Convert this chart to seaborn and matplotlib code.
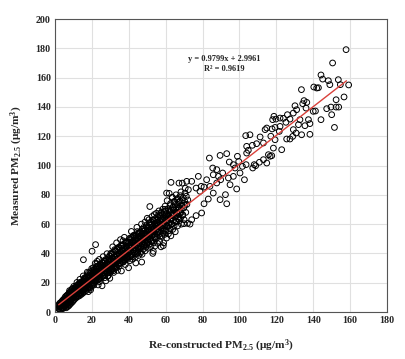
import matplotlib
matplotlib.use("Agg")
import matplotlib.pyplot as plt
import seaborn as sns
import pandas as pd

# ---- data ----
pts_a = [(1.5,3.2),(2.0,4.8),(2.2,2.1),(2.5,5.9),(2.8,3.7),(3.0,1.8),(3.1,6.5),(3.3,4.2),(3.6,2.9),(3.8,7.4),(4.0,5.1),(4.1,3.3),(4.3,8.2),(4.5,6.0),(4.6,2.6),(4.8,4.5),(5.0,9.1),(5.1,7.0),(5.2,3.8),(5.4,5.6),(5.6,10.4),(5.7,8.1),(5.9,4.4),(6.0,6.6),(6.1,2.9),(6.3,11.2),(6.4,9.0),(6.5,5.3),(6.7,7.5),(6.8,3.6),(7.0,12.0),(7.1,10.1),(7.2,6.2),(7.4,8.6),(7.5,4.3),(7.7,13.1),(7.8,11.0),(7.9,7.1),(8.0,9.4),(8.1,5.2),(8.3,14.0),(8.4,12.1),(8.5,8.0),(8.6,10.5),(8.8,6.1),(9.0,15.2),(9.1,12.8),(9.2,9.0),(9.3,11.4),(9.5,7.0),(9.6,16.0),(9.7,13.6),(9.8,10.0),(9.9,12.3),(10.0,7.9),(10.2,17.5),(10.3,14.4),(10.4,11.0),(10.5,8.6),(10.6,13.0)]
pts_b = [(10.8,15.6),(11.0,12.2),(11.1,16.8),(11.3,9.5),(11.4,14.1),(11.6,16.9),(11.7,11.3),(11.9,20.2),(12.0,13.6),(12.2,10.4),(12.3,17.2),(12.5,15.0),(12.6,18.7),(12.8,12.4),(12.9,18.6),(13.1,14.3),(13.2,11.0),(13.4,16.5),(13.5,22.3),(13.7,13.1),(13.8,19.4),(14.0,15.7),(14.1,11.9),(14.3,17.8),(14.4,20.6),(14.6,14.6),(14.7,20.4),(14.9,12.7),(15.0,16.9),(15.2,19.0),(15.3,24.6),(15.4,35.7),(15.5,15.3),(15.6,21.5),(15.8,13.6),(15.9,18.0),(16.1,20.1),(16.3,22.9),(16.4,16.2),(16.6,22.4),(16.7,14.5),(16.9,19.1),(17.0,24.0),(17.2,17.3),(17.3,21.1),(17.5,27.2),(17.6,15.6),(17.8,23.2),(17.9,19.8),(18.1,13.9),(18.2,25.3),(18.4,18.4),(18.5,22.0),(18.7,24.9),(18.8,16.8),(19.0,24.2),(19.1,20.6),(19.3,15.1),(19.4,26.5),(19.6,19.2),(19.7,23.0),(19.9,29.6),(20.0,17.9),(20.1,41.5),(20.2,25.2),(20.3,21.6)]
pts_c = [(20.5,28.5),(20.6,19.0),(20.8,23.9),(20.9,27.5),(21.1,18.4),(21.2,22.1),(21.4,29.2),(21.5,25.4),(21.7,20.3),(21.8,33.2),(22.0,46.0),(22.0,23.6),(22.2,27.9),(22.3,21.1),(22.5,30.8),(22.6,25.0),(22.8,21.7),(22.9,34.6),(23.1,28.2),(23.2,24.2),(23.4,18.5),(23.5,31.6),(23.7,26.6),(23.8,22.8),(24.0,35.9),(24.1,29.3),(24.3,25.6),(24.4,22.7),(24.6,32.8),(24.7,27.4),(24.9,23.8),(25.0,31.9),(25.2,30.4),(25.3,26.5),(25.5,17.9),(25.6,33.9),(25.8,28.6),(25.9,24.5),(26.1,37.8),(26.2,31.3),(26.4,27.1),(26.5,24.6),(26.7,35.1),(26.8,29.8),(27.0,25.5),(27.1,34.6),(27.3,32.2),(27.4,28.0),(27.6,21.3),(27.7,36.0),(27.9,30.7),(28.0,26.6),(28.2,39.8),(28.3,33.5),(28.5,29.1),(28.6,24.8),(28.8,37.2),(28.9,31.6),(29.1,27.4),(29.2,36.2),(29.4,34.5),(29.5,30.0),(29.7,23.0),(29.8,38.4),(30.0,32.6)]
pts_d = [(30.1,28.2),(30.3,40.1),(30.4,35.6),(30.6,31.0),(30.7,28.9),(30.9,39.5),(31.0,33.6),(31.2,29.0),(31.3,44.5),(31.5,36.4),(31.6,32.0),(31.8,27.0),(31.9,40.6),(32.1,34.7),(32.2,30.3),(32.4,42.6),(32.5,37.5),(32.7,33.1),(32.8,29.8),(33.0,41.7),(33.1,35.8),(33.3,31.3),(33.4,47.2),(33.6,38.6),(33.7,34.1),(33.9,28.4),(34.0,42.8),(34.2,36.8),(34.3,32.4),(34.5,43.9),(34.6,39.7),(34.8,35.2),(34.9,33.1),(35.1,43.8),(35.2,37.9),(35.4,33.5),(35.5,49.4),(35.7,40.8),(35.8,36.2),(36.0,28.0),(36.1,44.9),(36.3,39.0),(36.4,34.4),(36.6,45.7),(36.7,41.8),(36.9,37.3),(37.0,34.2),(37.2,46.0),(37.3,40.0),(37.5,35.5),(37.6,51.0),(37.8,42.9),(37.9,38.4),(38.1,32.4),(38.3,47.0),(38.4,41.1),(38.6,36.6),(38.7,47.3),(38.9,43.9),(39.0,39.4),(39.2,36.0),(39.4,48.0),(39.5,42.0),(39.7,37.6),(39.9,30.2),(40.0,45.0)]
pts_e = [(40.2,40.4),(40.3,50.2),(40.5,35.0),(40.6,46.1),(40.8,41.4),(40.9,49.4),(41.1,37.9),(41.2,43.7),(41.4,55.0),(41.5,47.2),(41.7,39.0),(41.8,44.6),(42.0,51.0),(42.1,36.0),(42.3,48.2),(42.4,42.0),(42.6,46.0),(42.7,52.4),(42.9,40.1),(43.0,49.3),(43.2,44.0),(43.3,52.1),(43.5,37.4),(43.6,47.2),(43.8,33.5),(43.9,50.2),(44.1,42.3),(44.2,45.6),(44.4,57.8),(44.5,48.4),(44.7,40.0),(44.8,53.0),(45.0,44.5),(45.2,50.8),(45.3,38.6),(45.5,47.1),(45.6,54.0),(45.8,43.3),(45.9,51.9),(46.1,45.8),(46.3,40.2),(46.4,54.2),(46.6,48.4),(46.7,44.6),(46.9,60.0),(47.0,52.7),(47.0,34.1),(47.2,39.4),(47.3,46.9),(47.5,55.3),(47.7,49.6),(47.8,42.8),(48.0,57.6),(48.1,51.1),(48.3,45.9),(48.5,56.9),(48.6,53.6),(48.8,47.6),(48.9,41.8),(49.1,56.0),(49.3,50.4),(49.4,44.4),(49.6,59.4),(49.8,52.9),(49.9,47.0),(50.0,64.0)]
pts_f = [(50.2,55.2),(50.3,49.0),(50.5,43.5),(50.6,58.3),(50.8,51.6),(50.9,63.0),(51.1,46.2),(51.2,55.9),(51.4,72.0),(51.5,49.8),(51.7,59.4),(51.8,53.1),(52.0,44.6),(52.1,61.2),(52.3,56.4),(52.4,48.0),(52.6,65.2),(52.7,52.0),(52.9,58.5),(53.0,40.0),(53.2,54.7),(53.3,62.6),(53.3,41.4),(53.5,47.4),(53.6,57.1),(53.8,66.5),(53.9,51.0),(54.1,60.0),(54.2,45.0),(54.4,55.6),(54.5,63.8),(54.7,58.6),(54.8,49.9),(55.0,67.4),(55.2,53.4),(55.3,61.2),(55.5,57.0),(55.6,46.9),(55.8,64.7),(55.9,52.2),(56.1,59.4),(56.3,69.0),(56.4,55.0),(56.6,62.6),(56.7,48.3),(56.9,58.0),(57.0,66.0),(57.2,53.6),(57.4,61.1),(57.5,44.5),(57.7,57.5),(57.8,68.0),(58.0,63.8),(58.1,51.7),(58.3,59.2),(58.4,70.2),(58.6,55.5),(58.7,45.3),(58.8,62.3),(58.9,47.2),(59.1,66.5),(59.2,58.8),(59.4,53.0),(59.6,64.2),(59.7,72.3),(59.9,60.0)]
pts_g = [(60.1,55.8),(60.3,67.0),(60.5,81.2),(60.5,50.5),(60.6,62.9),(60.8,76.0),(61.0,58.4),(61.2,65.3),(61.4,70.5),(61.5,53.4),(61.7,61.0),(61.9,81.0),(62.1,67.9),(62.3,57.0),(62.5,63.6),(62.6,74.0),(62.8,52.0),(62.9,88.5),(63.0,69.6),(63.2,60.4),(63.4,65.8),(63.6,78.2),(63.8,56.4),(64.0,71.5),(64.2,62.7),(64.4,67.4),(64.6,59.0),(64.8,75.6),(65.0,64.8),(65.2,54.8),(65.4,70.0),(65.6,80.0),(65.8,61.7),(66.0,67.3),(66.3,73.3),(66.5,58.8),(66.7,77.5),(67.0,65.0),(67.2,88.0),(67.4,70.9),(67.6,62.5),(67.8,75.8),(68.0,68.0),(68.3,82.0),(68.5,60.0),(68.7,73.0),(69.0,88.0),(69.2,66.0),(69.5,78.0),(69.8,71.0),(69.9,60.3),(70.0,63.0),(70.3,75.5),(70.5,81.2),(70.6,84.5),(70.9,68.0),(71.2,79.0),(71.4,89.2),(71.5,73.5),(71.8,60.5),(72.0,76.5),(72.3,83.5)]
pts_core1 = [(3.4,5.8),(1.9,2.4),(6.2,9.7),(4.7,3.1),(8.9,13.5),(2.6,4.0),(7.3,7.9),(5.5,8.8),(10.1,11.2),(3.9,2.2),(9.4,15.9),(6.9,5.0),(11.6,18.0),(4.2,6.9),(8.2,10.6),(2.3,3.5),(5.8,4.9),(10.7,16.4),(7.6,12.5),(3.0,3.9),(9.7,9.3),(6.4,7.9),(11.9,13.2),(4.9,7.7),(8.7,7.3),(1.7,4.4),(5.1,5.5),(10.4,13.9),(7.0,8.8),(12.2,11.4),(3.7,4.7),(9.1,10.9),(6.6,11.1),(11.1,15.1),(2.9,5.2),(8.4,9.9),(5.3,6.7),(10.9,10.3),(7.9,14.6),(4.4,5.3)]
pts_core2 = [(13.3,17.9),(19.8,22.7),(15.1,13.8),(22.4,29.6),(17.6,20.3),(12.7,16.2),(24.3,23.1),(14.4,19.6),(20.9,25.4),(16.2,15.4),(23.6,31.4),(18.8,17.5),(13.9,12.6),(21.7,21.6),(15.8,22.5),(24.9,28.9),(17.1,23.9),(12.4,13.8),(19.3,27.6),(22.9,24.8),(14.9,16.9),(20.4,18.9),(16.7,20.6),(23.2,26.9),(18.3,24.1),(13.6,20.1),(21.3,28.4),(15.5,18.3),(24.6,32.3),(17.9,16.7),(19.6,20.9),(22.1,22.9),(14.2,14.7),(20.7,30.2),(16.5,18.0),(23.9,25.8),(18.6,21.7),(12.9,19.3),(21.9,26.2),(15.3,21.2),(24.1,20.7),(17.4,18.8),(19.1,16.3),(22.7,33.0),(16.0,23.3),(20.1,23.7),(23.4,22.2),(18.1,26.6),(13.1,15.3),(21.1,19.7)]
pts_core3 = [(26.4,30.9),(33.8,38.4),(28.7,24.6),(37.2,43.6),(30.3,35.9),(25.6,29.4),(35.4,33.1),(29.1,31.7),(38.6,47.9),(31.7,28.2),(27.2,34.7),(36.6,38.9),(32.4,41.8),(39.3,37.4),(28.2,29.5),(34.5,44.2),(26.9,23.4),(30.9,32.2),(37.9,40.6),(33.1,30.6),(29.6,38.1),(35.9,45.7),(25.2,31.1),(31.2,36.8),(38.1,35.5),(27.7,27.6),(34.1,35.0),(36.2,42.0),(32.8,33.9),(39.7,44.9),(29.9,26.8),(26.1,26.4),(33.4,42.7),(37.5,36.1),(30.6,39.6),(35.1,39.2),(28.4,33.3),(39.0,41.3),(31.9,34.4),(34.8,31.2),(27.4,31.9),(36.9,48.6),(32.1,37.7),(38.4,39.0),(25.9,33.6),(30.1,29.2),(35.7,37.3),(33.6,36.0),(29.3,35.4),(37.0,34.1)]
pts_core4 = [(41.3,45.2),(48.6,50.7),(43.7,39.8),(52.2,59.9),(45.2,49.5),(40.6,43.6),(50.4,47.8),(44.1,52.3),(53.6,55.8),(46.7,41.3),(42.2,47.9),(51.6,54.1),(47.4,56.5),(54.3,51.2),(43.2,44.4),(49.5,58.3),(41.9,37.6),(45.9,46.6),(52.9,62.7),(48.1,45.1),(44.6,54.9),(50.9,52.5),(40.2,47.3),(46.2,51.4),(53.1,49.0),(42.7,42.5),(49.1,53.4),(51.2,61.0),(47.8,48.1),(54.7,58.7),(44.9,41.0),(41.1,50.6),(48.4,55.3),(52.5,53.0),(45.6,44.8),(50.1,57.2),(43.4,48.7),(54.0,60.4),(46.9,49.9),(49.8,46.0),(42.4,51.9),(51.9,48.4),(47.1,53.2),(53.4,56.6),(40.9,41.7),(45.1,53.8),(50.7,50.2),(48.8,61.4),(44.3,45.9),(52.0,55.1)]
pts_core5 = [(56.3,60.1),(63.4,66.7),(58.7,53.9),(67.1,74.9),(60.2,64.3),(55.6,59.2),(65.4,62.1),(59.1,68.3),(68.6,72.2),(61.7,55.6),(57.2,63.8),(66.6,70.8),(62.4,72.6),(69.3,66.4),(58.2,58.9),(64.5,75.1),(56.9,51.6),(60.9,61.3),(67.9,79.4),(63.1,59.7),(59.6,70.1),(65.9,68.0),(55.2,62.6),(61.2,66.0),(68.1,64.2),(57.7,56.8),(64.1,69.7),(66.2,77.2),(62.8,63.2),(70.4,72.9),(59.9,55.1),(56.1,66.4),(63.8,71.5),(67.4,67.3),(60.6,58.5),(65.1,73.4),(58.4,63.0),(69.0,76.7),(61.9,65.1),(64.8,61.0),(57.4,67.7),(66.9,63.5),(62.1,69.2),(68.4,70.0),(55.9,54.7),(60.0,69.0),(65.7,65.9),(63.6,78.3),(59.3,60.6),(67.0,71.7)]
pts_h = [(73.2,60.0),(74.1,63.0),(74.1,89.2),(76.5,65.8),(76.5,84.6),(77.7,92.6),(78.6,82.4),(79.3,85.8),(79.5,67.6),(80.8,85.3),(80.8,73.9),(82.2,90.3),(83.1,77.1),(83.7,105.1),(84.0,85.8),(85.5,98.3),(85.8,81.2),(85.8,93.7),(87.7,97.2),(87.7,88.1),(88.6,92.6),(89.5,106.9),(89.5,76.7),(89.8,90.3),(90.9,94.9),(92.4,80.1),(93.1,108.1),(93.1,73.9),(94.0,91.5),(94.5,102.4),(94.9,86.9),(96.7,100.6),(96.7,92.6),(97.6,98.3),(98.5,84.0),(98.9,106.3),(99.6,102.8),(100.3,94.9),(101.6,99.4),(102.7,90.3),(103.4,120.4),(103.6,100.6),(103.9,108.5),(103.9,113.1),(104.8,110.4),(105.7,121.0),(107.0,113.8),(107.2,98.3),(108.0,100.6),(108.8,99.9),(109.3,114.9),(110.8,102.2),(111.2,119.5),(113.0,104.0),(113.0,115.4),(113.9,124.5),(114.8,101.7),(114.8,125.6),(115.7,107.4),(116.6,106.3),(117.0,120.0),(117.5,106.7),(117.7,125.0),(118.0,131.3),(118.4,111.9),(118.7,133.6),(119.3,126.0),(119.3,117.6),(119.8,131.7),(121.6,123.3),(122.0,126.7),(122.0,132.4),(122.9,110.8),(123.8,132.2),(125.2,129.5),(125.6,118.1),(126.0,134.7),(127.4,118.1),(127.4,131.7),(128.9,119.9),(129.2,135.8),(129.2,124.5),(130.1,140.8),(130.7,122.2),(131.0,138.1),(132.0,127.9),(132.8,131.3),(133.6,151.8),(133.7,121.0),(134.3,142.2),(135.0,144.3),(135.5,127.2),(136.1,139.2),(136.5,143.1),(137.4,131.3),(138.2,128.6),(138.2,121.3),(140.0,137.0),(140.3,153.6),(141.2,137.2),(141.9,152.9),(142.8,153.1),(144.2,131.3),(144.2,161.8),(145.1,159.0),(147.3,138.8),(148.2,157.9),(149.0,155.2),(149.6,139.9),(150.0,134.7),(150.5,170.0),(151.5,126.0),(152.4,139.9),(152.4,144.9),(153.6,158.6),(153.8,139.9),(154.7,155.2),(156.7,146.8),(157.8,179.1),(159.2,155.0)]

slope = 0.9799
intercept = 2.9961
r2 = 0.9619
fit_x = [2.0, 158.0]

x_ticks = [0, 20, 40, 60, 80, 100, 120, 140, 160, 180]
y_ticks = [0, 20, 40, 60, 80, 100, 120, 140, 160, 180, 200]

# ---- build table ----
all_pts = (pts_a + pts_b + pts_c + pts_d + pts_e + pts_f + pts_g
           + pts_core1 + pts_core2 + pts_core3 + pts_core4 + pts_core5 + pts_h)
df = pd.DataFrame(all_pts, columns=["recon", "measured"])

sns.set_theme(style="white")
plt.rcParams["font.family"] = ["Liberation Serif", "DejaVu Serif"]
plt.rcParams["font.weight"] = "bold"
plt.rcParams["mathtext.fontset"] = "custom"
plt.rcParams["mathtext.rm"] = "Liberation Serif:bold"
plt.rcParams["mathtext.bf"] = "Liberation Serif:bold"
plt.rcParams["mathtext.it"] = "Liberation Serif:bold"

fig = plt.figure(figsize=(4.05, 3.59), dpi=100)
ax = fig.add_axes([0.1358, 0.1309, 0.8198, 0.8161])

ax.grid(True, color="#e0e0e0", linewidth=0.8)
ax.set_axisbelow(True)

sns.scatterplot(data=df, x="recon", y="measured", ax=ax, s=17,
                facecolor="none", edgecolor="black", linewidth=0.7,
                marker="o", zorder=2)

fx = pd.Series(fit_x)
ax.plot(fx, slope * fx + intercept, color="#d9403a", linewidth=1.0, zorder=3)

ax.set_xlim(0, 180)
ax.set_ylim(0, 200)
ax.set_xticks(x_ticks)
ax.set_yticks(y_ticks)
ax.tick_params(length=0, pad=3, labelsize=7.2)
for lab in ax.get_xticklabels() + ax.get_yticklabels():
    lab.set_fontweight("bold")

for sp in ax.spines.values():
    sp.set_color("#555555")
    sp.set_linewidth(0.8)

ax.set_xlabel(r"Re-constructed PM$_{2.5}$ ($\mu$g/m$^{3}$)", fontsize=8.2,
              fontweight="bold", labelpad=9)
ax.set_ylabel(r"Measured PM$_{2.5}$ ($\mu$g/m$^{3}$)", fontsize=8.2,
              fontweight="bold", labelpad=8)

ax.text(91.6, 172.5, f"y = {slope}x + {intercept}", ha="center", va="center",
        fontsize=6.0, fontweight="bold")
ax.text(91.6, 165.8, f"R\u00b2 = {r2}", ha="center", va="center",
        fontsize=6.0, fontweight="bold")

fig.savefig("out.png", dpi=100)
